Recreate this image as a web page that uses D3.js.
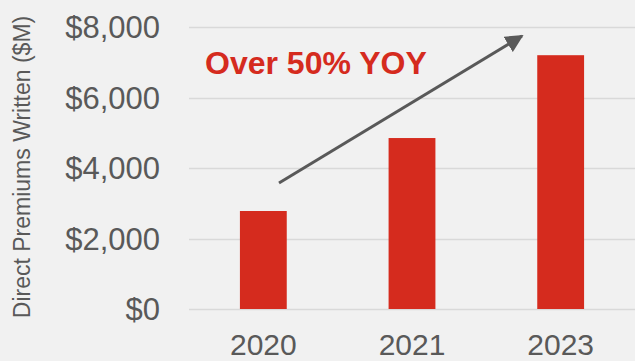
<!DOCTYPE html>
<html>
<head>
<meta charset="utf-8">
<script src="https://cdn.jsdelivr.net/npm/d3@7"></script>
<style>
  body { margin: 0; background: #f1f1f1; }
  svg { display: block; font-family: "Liberation Sans", Arial, sans-serif; }
</style>
</head>
<body>
<svg id="chart" width="635" height="361"></svg>
<script>
  var years = ['2020', '2021', '2023']
  var premiums = [2780, 4850, 7200]
  var yTicks = [0, 2000, 4000, 6000, 8000]

  var svg = d3.select('#chart')
  var width = +svg.attr('width')
  var height = +svg.attr('height')
  var margin = {top: 27, right: 0, bottom: 52, left: 189}

  var x = d3.scaleBand()
    .domain(years)
    .range([margin.left, width - margin.right])
    .paddingInner(0.685)
    .paddingOuter(0.3425)

  var y = d3.scaleLinear()
    .domain([0, 8000])
    .range([height - margin.bottom, margin.top])

  // background
  svg.append('rect')
    .attr('width', width).attr('height', height)
    .style('fill', '#f1f1f1')

  // gridlines
  svg.selectAll('.grid')
    .data(yTicks)
    .enter().append('line')
    .attr('class', 'grid')
    .attr('x1', margin.left).attr('x2', width)
    .attr('y1', function(d){ return Math.round(y(d)) + 0.5 })
    .attr('y2', function(d){ return Math.round(y(d)) + 0.5 })
    .style('stroke', '#d9d9d9')
    .style('stroke-width', 1.5)

  // y tick labels
  svg.selectAll('.ylab')
    .data(yTicks)
    .enter().append('text')
    .attr('class', 'ylab')
    .attr('x', 160)
    .attr('y', function(d){ return y(d) })
    .attr('dy', '0.36em')
    .attr('text-anchor', 'end')
    .style('font-size', '31px')
    .style('fill', '#595959')
    .text(function(d){ return '$' + d3.format(',')(d) })

  // bars
  svg.selectAll('.bar')
    .data(premiums)
    .enter().append('rect')
    .attr('class', 'bar')
    .attr('x', function(d, i){ return x(years[i]) })
    .attr('y', function(d){ return y(d) })
    .attr('width', x.bandwidth())
    .attr('height', function(d){ return y(0) - y(d) })
    .style('fill', '#d52b1e')

  // x labels
  svg.selectAll('.xlab')
    .data(years)
    .enter().append('text')
    .attr('class', 'xlab')
    .attr('x', function(d){ return x(d) + x.bandwidth() / 2 })
    .attr('y', 355)
    .attr('text-anchor', 'middle')
    .style('font-size', '30px')
    .style('fill', '#595959')
    .text(function(d){ return d })

  // axis title
  svg.append('text')
    .attr('transform', 'translate(30,167) rotate(-90)')
    .attr('text-anchor', 'middle')
    .style('font-size', '23px')
    .style('fill', '#595959')
    .text('Direct Premiums Written ($M)')

  // arrow
  svg.append('defs').append('marker')
    .attr('id', 'head')
    .attr('viewBox', '0 0 10 10')
    .attr('refX', 9).attr('refY', 5)
    .attr('markerWidth', 6).attr('markerHeight', 6)
    .attr('orient', 'auto')
    .append('path')
    .attr('d', 'M0,0 L10,5 L0,10 Z')
    .style('fill', '#595959')

  svg.append('line')
    .attr('x1', 279).attr('y1', 183)
    .attr('x2', 522).attr('y2', 36)
    .style('stroke', '#595959')
    .style('stroke-width', 3)
    .attr('marker-end', 'url(#head)')

  svg.append('text')
    .attr('x', 205).attr('y', 74)
    .style('font-size', '32px')
    .style('font-weight', 'bold')
    .style('fill', '#d52b1e')
    .text('Over 50% YOY')
</script>
</body>
</html>
